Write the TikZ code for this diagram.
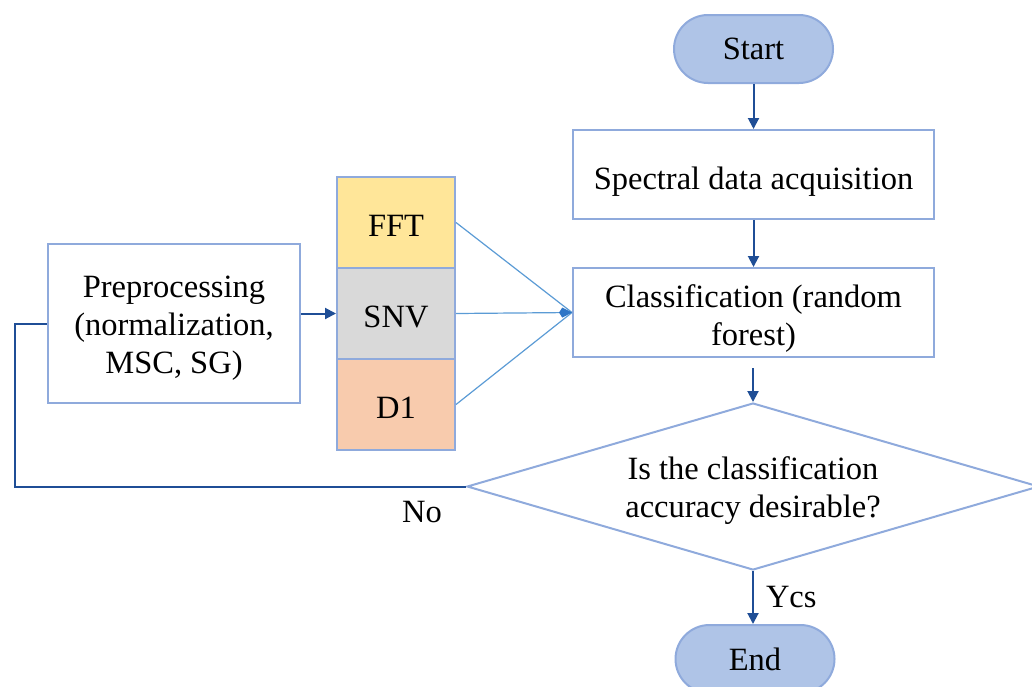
\documentclass[tikz,border=0pt]{standalone}
\usepackage{fontspec}
\setmainfont{Liberation Serif}
\usetikzlibrary{arrows.meta,shapes.geometric}
\definecolor{bord}{HTML}{8FAADC}
\definecolor{pillfill}{HTML}{AFC4E7}
\definecolor{darkarr}{HTML}{1F4E96}
\definecolor{midarr}{HTML}{5B9BD5}
\definecolor{tipblue}{HTML}{2E75C6}
\definecolor{fftfill}{HTML}{FFE699}
\definecolor{snvfill}{HTML}{D9D9D9}
\definecolor{dfill}{HTML}{F8CBAD}
\begin{document}
\begin{tikzpicture}[x=1pt,y=-1pt,
  every node/.style={font=\fontsize{32.5}{38}\selectfont, inner sep=0pt},
  every label/.style={font=\fontsize{32.5}{38}\selectfont, inner sep=0pt, align=center},
  pill/.style={draw=bord, line width=2pt, fill=pillfill, rounded corners=34pt, minimum width=159pt, minimum height=68pt},
  boxnode/.style={draw=bord, line width=2pt, fill=white, align=center},
  cell/.style={draw=bord, line width=2pt, minimum width=118pt, minimum height=91pt},
  darrow/.style={draw=darkarr, line width=2pt, -{Triangle[length=11pt,width=11pt]}},
  thin/.style={draw=midarr, line width=1.2pt}
]
\useasboundingbox (0,0) rectangle (1032,686);
\begin{scope}
\clip (0,0) rectangle (1032,686);
\node[pill] (start) at (753.5,49) {Start};
\node[boxnode, minimum width=361pt, minimum height=89pt, label={[yshift=-7pt]center:Spectral data acquisition}] (spec) at (753.5,174.5) {};
\node[boxnode, minimum width=361pt, minimum height=89pt, label={[yshift=-6pt]center:Classification (random\\forest)}] (cls) at (753.5,312.5) {};
\node[draw=bord, line width=2pt, diamond, aspect=3.4, minimum width=572pt, minimum height=167pt, label={[yshift=-4pt]center:Is the classification\\accuracy desirable?}] (dec) at (753,486.5) {};
\node[pill] (end) at (755,659) {End};
\node[boxnode, minimum width=252pt, minimum height=159pt, label={[yshift=-5pt]center:Preprocessing\\(normalization,\\MSC, SG)}] (pre) at (174,323.5) {};
\node[cell, fill=fftfill, label={[yshift=-3pt]center:FFT}] (fft) at (396,222.5) {};
\node[cell, fill=snvfill, label={[yshift=-3pt]center:SNV}] (snv) at (396,313.5) {};
\node[cell, fill=dfill, label={[yshift=-3pt]center:D1}] (d1) at (396,404.5) {};
\coordinate (clsin) at (cls.west);
\coordinate (c1) at (753,368);
\coordinate (fbA) at (15,486.5);
\coordinate (fbB) at (15,323.5);
\end{scope}
\draw[darrow] (start.south) -- (spec.north);
\draw[darrow] (spec.south) -- (cls.north);
\draw[darrow] (c1) -- (dec.north);
\draw[darrow] (dec.south) -- node[right=12pt, pos=0.5] {Ycs} (dec.south |- end.north);
\draw[darrow] (pre.east |- snv.west) -- (snv.west);
\draw[thin] (fft.east) -- (clsin);
\draw[thin] (d1.east) -- (clsin);
\draw[thin, -{Kite[length=13pt,width=10pt,color=tipblue,fill=tipblue]}] (snv.east) -- (clsin);
\draw[draw=darkarr, line width=2pt] (dec.west) -- (fbA) -- (fbB) -- (pre.west |- fbB);
\node at (422,512) {No};
\end{tikzpicture}
\end{document}
